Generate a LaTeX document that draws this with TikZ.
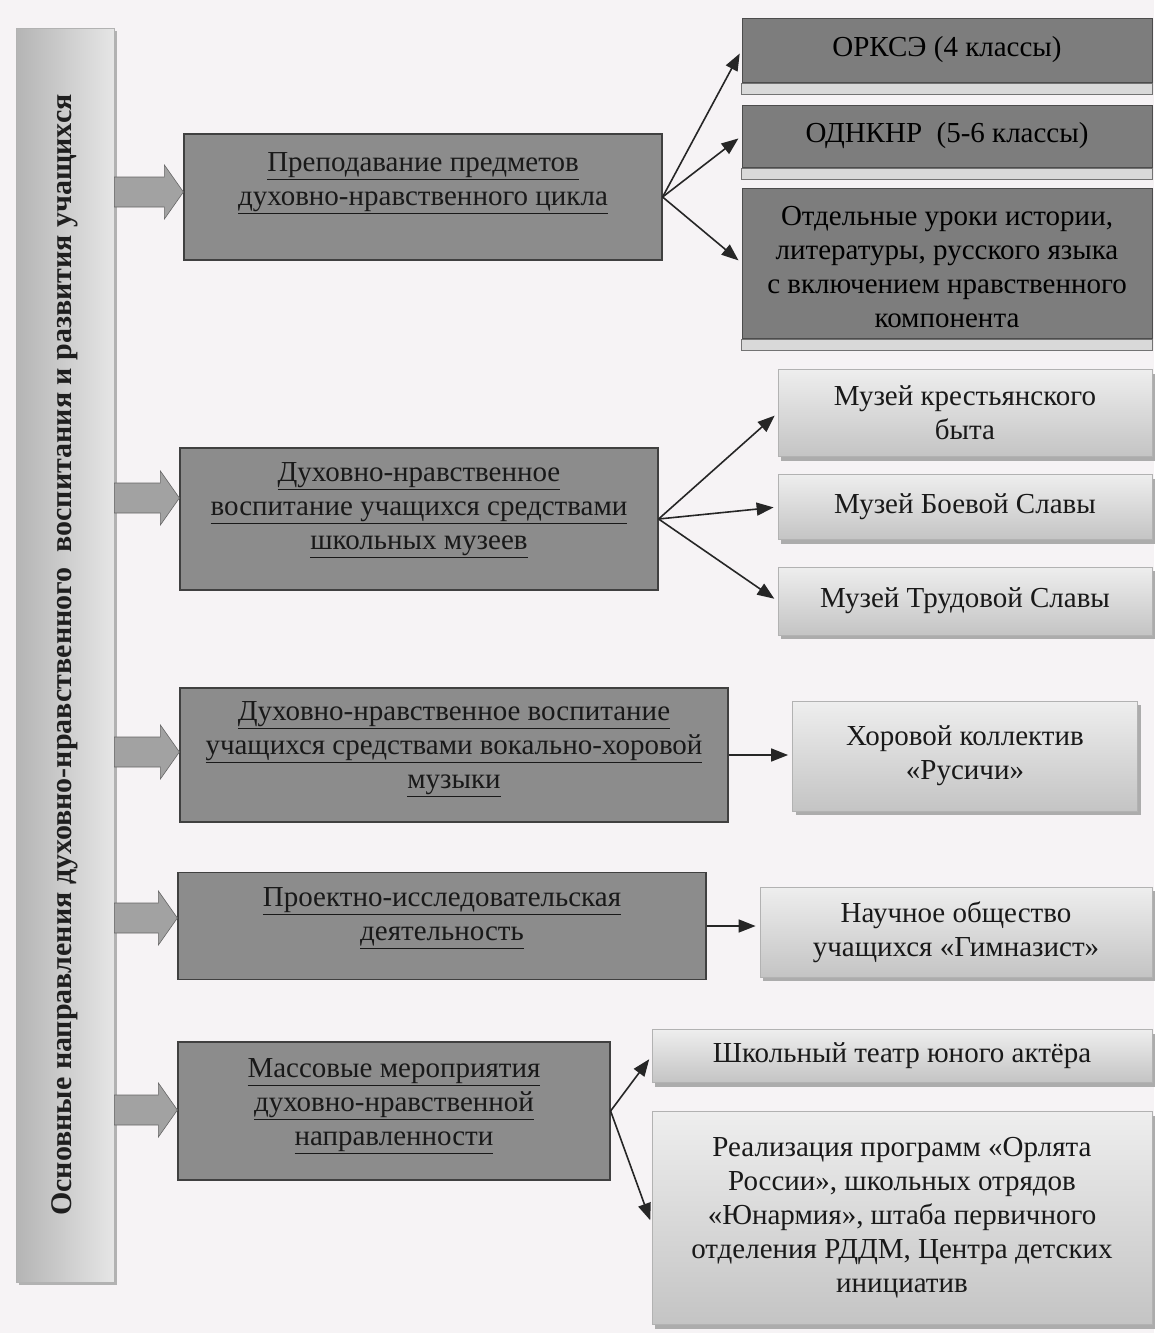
\documentclass[tikz,border=0pt]{standalone}
\usepackage{fontspec}
\setmainfont{Liberation Serif}
\usetikzlibrary{arrows.meta,shadows,calc}
\definecolor{bg}{HTML}{F6F3F5}
\definecolor{mainfill}{HTML}{8C8C8C}
\definecolor{darkfill}{HTML}{7D7D7D}
\definecolor{lighttop}{HTML}{EEEEEE}
\definecolor{lightbot}{HTML}{C4C4C4}
\definecolor{barleft}{HTML}{B4B4B4}
\definecolor{barright}{HTML}{E6E6E6}
\definecolor{arrowgray}{HTML}{A2A2A2}
\newcommand\blockarr[2]{%
  \fill[arrowgray, draw=gray!80!black, line width=0.6pt] let \p1=(#1), \p2=(#2) in
    (\x1,{\y1+15pt}) -- ({\x2-19pt},{\y1+15pt}) -- ({\x2-19pt},{\y1+27pt}) -- (\x2,\y1)
    -- ({\x2-19pt},{\y1-27pt}) -- ({\x2-19pt},{\y1-15pt}) -- (\x1,{\y1-15pt}) -- cycle;}
\newcommand\understrip[1]{%
  \draw[fill=gray!30, draw=black!55, line width=0.8pt] ([yshift=-1pt]#1.south west) rectangle ([yshift=-12pt]#1.south east);}
\begin{document}
\begin{tikzpicture}[x=1pt,y=-1pt,
  txt/.style={align=center, font=\fontsize{29}{34}\selectfont},
  mainbox/.style={draw=black!75, line width=1.2pt, fill=mainfill, inner sep=0pt},
  mtext/.style={txt, text=black!90},
  darkbox/.style={draw=gray!60!black, line width=0.8pt, fill=darkfill, inner sep=0pt},
  dtext/.style={txt, text=black},
  lightbox/.style={draw=gray!60, line width=0.8pt, top color=lighttop, bottom color=lightbot, txt, text=black!90, inner sep=0pt,
    general shadow={fill=gray!65, shadow xshift=3pt, shadow yshift=-4pt}},
  barbox/.style={draw=gray!60, line width=0.8pt, left color=barleft, right color=barright, inner sep=0pt,
    general shadow={fill=gray!60, shadow xshift=3pt, shadow yshift=-3pt}},
  conn/.style={draw=black!85, line width=1.6pt, -{Triangle[length=17pt,width=13pt]}, shorten >=4pt}
]
\useasboundingbox (0,0) rectangle (1154,1333);
\fill[bg] (0,0) rectangle (1154,1333);

% left bar
\node[barbox, minimum width=98pt, minimum height=1254pt] (bar) at (65,655) {};
\node[rotate=90, font=\fontsize{30}{34}\selectfont\bfseries, text=black!88] (bartext) at (bar.center)
  {Основные направления духовно-нравственного\ \ воспитания и развития учащихся};

% main boxes
\node[mainbox, minimum width=478pt, minimum height=126pt] (b1) at (423,197) {};
\node[mtext] (t1) at ([yshift=14pt]b1.center) {\underline{Преподавание предметов}\\\underline{духовно-нравственного цикла}};
\node[mainbox, minimum width=478pt, minimum height=142pt] (b2) at (419,519) {};
\node[mtext] (t2) at ([yshift=9pt]b2.center) {\underline{Духовно-нравственное}\\\underline{воспитание учащихся средствами}\\\underline{школьных музеев}};
\node[mainbox, minimum width=548pt, minimum height=134pt] (b3) at (454,755) {};
\node[mtext] (t3) at ([yshift=6pt]b3.center) {\underline{Духовно-нравственное воспитание}\\\underline{учащихся средствами вокально-хоровой}\\\underline{музыки}};
\node[mainbox, minimum width=528pt, minimum height=107pt] (b4) at (442,926) {};
\node[mtext] (t4) at ([yshift=8pt]b4.center) {\underline{Проектно-исследовательская}\\\underline{деятельность}};
\node[mainbox, minimum width=432pt, minimum height=138pt] (b5) at (394,1111) {};
\node[mtext] (t5) at ([yshift=5pt]b5.center) {\underline{Массовые мероприятия}\\\underline{духовно-нравственной}\\\underline{направленности}};

% block arrows
\coordinate (a1) at (0,192);
\coordinate (a2) at (0,498);
\coordinate (a3) at (0,752);
\coordinate (a4) at (0,918);
\coordinate (a5) at (0,1110);
\blockarr{bar.east |- a1}{b1.west |- a1}
\blockarr{bar.east |- a2}{b2.west |- a2}
\blockarr{bar.east |- a3}{b3.west |- a3}
\blockarr{bar.east |- a4}{b4.west |- a4}
\blockarr{bar.east |- a5}{b5.west |- a5}

% right boxes, group 1
\node[darkbox, minimum width=410pt, minimum height=64pt] (r1a) at (947,50) {};
\node[darkbox, minimum width=410pt, minimum height=62pt] (r1b) at (947,136) {};
\node[darkbox, minimum width=410pt, minimum height=150pt] (r1c) at (947,263) {};
\understrip{r1a}
\understrip{r1b}
\understrip{r1c}
\node[dtext] (l1a) at (r1a.center) {ОРКСЭ (4 классы)};
\node[dtext] (l1b) at (r1b.center) {ОДНКНР\ \ (5-6 классы)};
\node[dtext] (l1c) at ([yshift=-4pt]r1c.center) {Отдельные уроки истории,\\литературы, русского языка\\с включением нравственного\\компонента};

% group 2
\node[lightbox, minimum width=374pt, minimum height=87pt] (r2a) at (965,413) {Музей крестьянского\\быта};
\node[lightbox, minimum width=374pt, minimum height=65pt] (r2b) at (965,507) {Музей Боевой Славы};
\node[lightbox, minimum width=374pt, minimum height=68pt] (r2c) at (965,601) {Музей Трудовой Славы};

% group 3, 4
\node[lightbox, minimum width=345pt, minimum height=110pt] (r3) at (965,756) {Хоровой коллектив\\«Русичи»};
\node[lightbox, minimum width=392pt, minimum height=90pt] (r4) at (956,932) {Научное общество\\учащихся «Гимназист»};

% group 5
\node[lightbox, minimum width=500pt, minimum height=53pt] (r5a) at (902,1056) {Школьный театр юного актёра};
\node[lightbox, minimum width=500pt, minimum height=213pt] (r5b) at (902,1218) {Реализация программ «Орлята\\России», школьных отрядов\\«Юнармия», штаба первичного\\отделения РДДМ, Центра детских\\инициатив};

% connectors
\draw[conn] (b1.east) -- (r1a.west);
\draw[conn] (b1.east) -- (r1b.west);
\draw[conn] (b1.east) -- (r1c.west);
\draw[conn] (b2.east) -- (r2a.west);
\draw[conn] (b2.east) -- (r2b.west);
\draw[conn] (b2.east) -- (r2c.west);
\draw[conn] (b3.east) -- (b3.east -| r3.west);
\draw[conn] (b4.east) -- (b4.east -| r4.west);
\draw[conn] (b5.east) -- (r5a.west);
\draw[conn] (b5.east) -- ([yshift=-6pt]r5b.west);
\end{tikzpicture}
\end{document}
